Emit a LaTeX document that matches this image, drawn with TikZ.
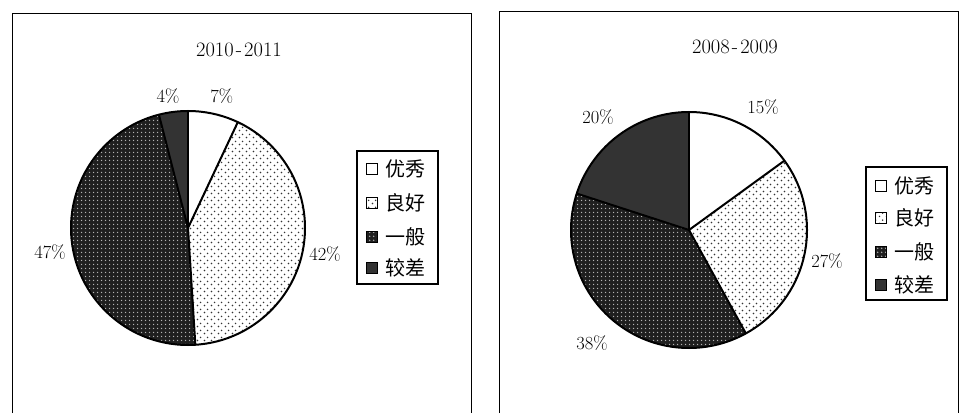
\documentclass[tikz,border=0pt]{standalone}
\usepackage{fontspec}
\newfontfamily\cjk{Noto Sans CJK SC}
\usetikzlibrary{patterns}
\pgfdeclarepatternformonly{lightdots}{\pgfpointorigin}{\pgfpoint{6.5pt}{6.5pt}}{\pgfpoint{6.5pt}{6.5pt}}{%
 \pgfpathcircle{\pgfpoint{1.6pt}{1.6pt}}{0.85pt}%
 \pgfpathcircle{\pgfpoint{4.85pt}{4.85pt}}{0.85pt}%
 \pgfusepath{fill}}
\pgfdeclarepatternformonly{densedots}{\pgfpointorigin}{\pgfpoint{4pt}{4pt}}{\pgfpoint{4pt}{4pt}}{%
 \pgfpathcircle{\pgfpoint{2pt}{2pt}}{0.9pt}\pgfusepath{fill}}
\newcommand\yrdash{\makebox[10.5pt]{-}}
\tikzset{
 slicewhite/.style={fill=white},
 slicelight/.style={preaction={fill=white}, pattern=lightdots, pattern color=black!80},
 slicedense/.style={preaction={fill=black!88}, pattern=densedots, pattern color=white!70!black},
 slicedark/.style={fill=black!80},
 edge/.style={draw=black, line width=2pt, line join=round},
 lbl/.style={font=\fontsize{18.5}{20}\selectfont, inner sep=0},
 ttl/.style={font=\fontsize{20.5}{22}\selectfont, inner sep=0},
 legtext/.style={font=\cjk\fontsize{20}{22}\selectfont, anchor=west, inner sep=0},
 legmark/.style={draw, line width=1.8pt, minimum size=11pt, inner sep=0},
 frame/.style={draw, line width=0.9pt},
 legbox/.style={draw, line width=1.8pt},
}
\begin{document}
\begin{tikzpicture}[x=1pt,y=1pt]
\useasboundingbox (0,0) rectangle (959,413);
\fill[white] (0,0) rectangle (959,413);
% ---------- left panel ----------
\draw[frame] (12,0) -- (12,400) -- (471,400) -- (471,0);
\node[ttl] (tL) at (239,363) {2010\yrdash2011};
\coordinate (cL) at (188,185);
\path[slicewhite] (cL) -- ++(90:117) arc[start angle=90, end angle=64.8, radius=117] -- cycle;
\path[slicelight] (cL) -- ++(64.8:117) arc[start angle=64.8, end angle=-86.4, radius=117] -- cycle;
\path[slicedense] (cL) -- ++(-86.4:117) arc[start angle=-86.4, end angle=-255.6, radius=117] -- cycle;
\path[slicedark] (cL) -- ++(104.4:117) arc[start angle=104.4, end angle=90, radius=117] -- cycle;
\draw[edge] (cL) circle[radius=117];
\draw[edge] (cL) -- ++(90:117);
\draw[edge] (cL) -- ++(64.8:117);
\draw[edge] (cL) -- ++(-86.4:117);
\draw[edge] (cL) -- ++(104.4:117);
\node[lbl] (l7) at (221.7,317) {7\%};
\node[lbl] (l4) at (168,317) {4\%};
\node[lbl] (l42) at (325,159) {42\%};
\node[lbl] (l47) at (50,161) {47\%};
\draw[legbox] (357,129) rectangle (438,262);
\node[legmark, fill=white] (mL1) at (372,244) {};
\node[legmark, slicelight] (mL2) at (372,210) {};
\node[legmark, slicedense] (mL3) at (372,176) {};
\node[legmark, slicedark] (mL4) at (372,145) {};
\node[legtext] (tL1) at (385,244) {优秀};
\node[legtext] (tL2) at (385,210) {良好};
\node[legtext] (tL3) at (385,176) {一般};
\node[legtext] (tL4) at (385,145) {较差};
% ---------- right panel ----------
\draw[frame] (499,0) -- (499,402) -- (958,402) -- (958,0);
\node[ttl] (tR) at (735,366) {2008\yrdash2009};
\coordinate (cR) at (689,183);
\path[slicewhite] (cR) -- ++(90:118) arc[start angle=90, end angle=36, radius=118] -- cycle;
\path[slicelight] (cR) -- ++(36:118) arc[start angle=36, end angle=-61.2, radius=118] -- cycle;
\path[slicedense] (cR) -- ++(-61.2:118) arc[start angle=-61.2, end angle=-198, radius=118] -- cycle;
\path[slicedark] (cR) -- ++(162:118) arc[start angle=162, end angle=90, radius=118] -- cycle;
\draw[edge] (cR) circle[radius=118];
\draw[edge] (cR) -- ++(90:118);
\draw[edge] (cR) -- ++(36:118);
\draw[edge] (cR) -- ++(-61.2:118);
\draw[edge] (cR) -- ++(162:118);
\node[lbl] (r15) at (763,306) {15\%};
\node[lbl] (r20) at (598,296) {20\%};
\node[lbl] (r27) at (827,152) {27\%};
\node[lbl] (r38) at (592,70) {38\%};
\draw[legbox] (866,113) rectangle (947,246);
\node[legmark, fill=white] (mR1) at (881,227) {};
\node[legmark, slicelight] (mR2) at (881,195) {};
\node[legmark, slicedense] (mR3) at (881,161) {};
\node[legmark, slicedark] (mR4) at (881,128) {};
\node[legtext] (tR1) at (894,227) {优秀};
\node[legtext] (tR2) at (894,195) {良好};
\node[legtext] (tR3) at (894,161) {一般};
\node[legtext] (tR4) at (894,128) {较差};
\end{tikzpicture}
\end{document}
